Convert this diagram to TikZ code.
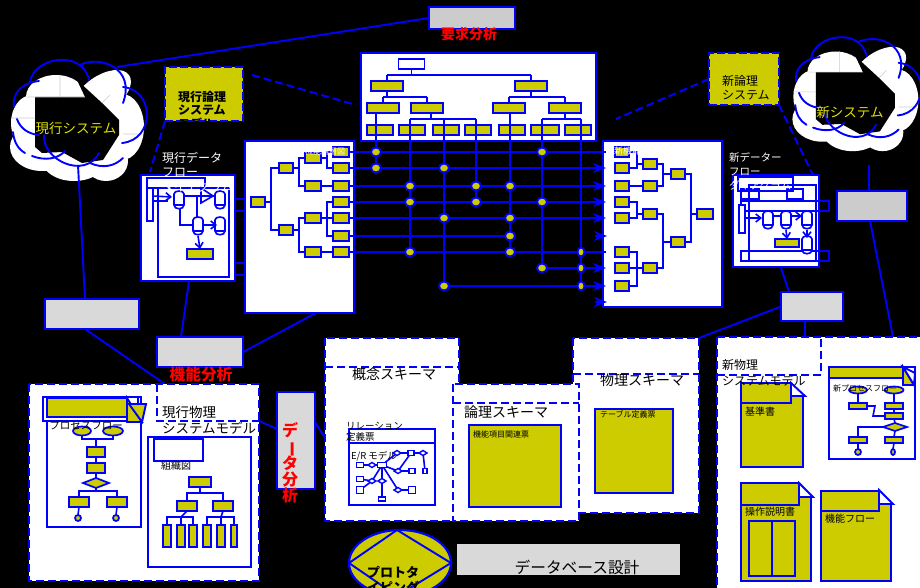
\documentclass[tikz,border=0pt]{standalone}
\usepackage{fontspec}
\setmainfont{Noto Sans CJK JP}
\usetikzlibrary{shapes.geometric,arrows.meta,calc}
\definecolor{lineblue}{RGB}{0,0,255}
\definecolor{docyellow}{RGB}{204,204,0}
\definecolor{labelyellow}{RGB}{225,225,0}
\definecolor{boxgray}{RGB}{204,204,204}
\definecolor{panelgray}{RGB}{217,217,217}

\tikzset{
    conn/.style={draw=lineblue, line width=1.9pt},
    wire/.style={draw=lineblue, line width=1.6pt},
    dashconn/.style={draw=lineblue, line width=2pt, dash pattern=on 8pt off 4pt},
    matarrow/.style={conn, -{Stealth[length=13pt,width=10pt,inset=4pt]}},
    openarrow/.style={wire, -{Straight Barb[length=5pt,width=8pt]}},
    ybox/.style 2 args={draw=lineblue, fill=docyellow, line width=1.9pt, inner sep=0pt, outer sep=0pt,
                        minimum width=#1, minimum height=#2},
    gbox/.style 2 args={draw=lineblue, fill=panelgray, line width=2.2pt, inner sep=0pt, outer sep=0pt,
                        minimum width=#1, minimum height=#2},
    wbox/.style 2 args={draw=lineblue, fill=white, line width=2.2pt, inner sep=0pt, outer sep=0pt,
                        minimum width=#1, minimum height=#2},
    dashbox/.style={draw=lineblue, fill=white, line width=2pt, dash pattern=on 8pt off 4pt},
    dot/.style={ellipse, draw=lineblue, fill=docyellow, line width=1.9pt, inner sep=0pt, outer sep=0pt,
                minimum width=10, minimum height=9},
    oval/.style 2 args={ellipse, draw=lineblue, fill=docyellow, line width=1.7pt, inner sep=0pt, outer sep=0pt,
                minimum width=#1, minimum height=#2},
    dmd/.style 2 args={diamond, draw=lineblue, fill=docyellow, line width=1.7pt, inner sep=0pt, outer sep=0pt,
                minimum width=#1, minimum height=#2},
    entity/.style 2 args={draw=lineblue, fill=white, line width=1.4pt, inner sep=0pt, outer sep=0pt,
                minimum width=#1, minimum height=#2},
    rel/.style={diamond, draw=lineblue, fill=white, line width=1.4pt, inner sep=0pt, outer sep=0pt,
                minimum width=8, minimum height=5},
    lbl/.style={inner sep=0pt, outer sep=0pt, align=left},
    redlbl/.style={lbl, text=red, font=\bfseries\fontsize{15.7}{16}\selectfont},
    cloudshape/.pic={
        \fill[white] (56,97) ellipse [x radius=30, y radius=22];
        \fill[white,rotate around={35:(102,94)}] (102,94) ellipse [x radius=33, y radius=18];
        \fill[white] (32,123) ellipse [x radius=21, y radius=28];
        \fill[white] (42,147) ellipse [x radius=32, y radius=24];
        \fill[white] (74,160) ellipse [x radius=32, y radius=21];
        \fill[white] (106,161) ellipse [x radius=22, y radius=20];
        \fill[white] (122,127) ellipse [x radius=22, y radius=33];
        \fill[black] (35,97) -- (85,97) -- (77,80) -- (102,103) -- (119,120) -- (119,135)
            -- (103,160) -- (82,163) -- (62,152) -- (42,153) -- (35,147) -- cycle;
        \draw[boxgray,line width=.6pt] (27,97) -- (85,97) (60,75) -- (60,97) (11,118) -- (35,118)
            (123,134) -- (138,134) (102,103) -- (110,95);
        \draw[conn,line cap=round] (30,82) .. controls (33,58) and (82,48) .. (89,80);
        \draw[conn,line cap=round] (80,65) .. controls (100,55) and (136,68) .. (123,103);
        \draw[conn,line cap=round] (123,87) .. controls (155,90) and (155,140) .. (122,143);
        \draw[conn,line cap=round] (39,81) .. controls (20,83) and (12,95) .. (14,107);
        \draw[conn,line cap=round] (17,119) .. controls (20,128) and (28,134) .. (39,135);
        \draw[conn,line cap=round] (13,132) .. controls (14,142) and (18,149) .. (25,153);
        \draw[conn,line cap=round] (32,156) .. controls (45,161) and (58,159) .. (65,151);
        \draw[conn,line cap=round] (44,135) .. controls (42,160) and (85,180) .. (99,153);
        \draw[conn,line cap=round] (90,163) .. controls (103,169) and (115,166) .. (123,158);
    },
    cylinder/.pic={
        \draw[wire,fill=white] (-5,-6) .. controls (-5,-10) and (5,-10) .. (5,-6) -- (5,5)
            .. controls (5,10) and (-5,10) .. (-5,5) -- cycle;
        \draw[wire] (-5,5) -- (5,5);
    },
}

\begin{document}
\begin{tikzpicture}[x=1pt,y=-1pt]
\useasboundingbox (0,0) rectangle (920,588);
\clip (0,0) rectangle (920,588);
\fill[black] (0,0) rectangle (920,588);

% long lines behind the panels
\coordinate (cloudout) at (117,67);
\coordinate (cloudfoot) at (78,165);
\coordinate (newfoot) at (869,165);
\coordinate (oldlogicend) at (356,105);
\coordinate (oldflowtop) at (150,172);
\coordinate (newlogicend) at (616,119);
\coordinate (newflowtop) at (813,175);

% clouds
\pic at (0,0) {cloudshape};
\pic[scale=.94] at (783,-19) {cloudshape};
\node[lbl, text=labelyellow, font=\fontsize{13.5}{15}\selectfont] (oldcloud) at (76,128) {現行システム};
\node[lbl, text=labelyellow, font=\fontsize{13.5}{15}\selectfont] (newcloud) at (850,112) {新システム};

% gray boxes
\node[gbox={86}{22}, fill=boxgray] (reqbox) at (472,18) {};
\node[gbox={94}{30}] (oldphys) at (92,314) {};
\node[gbox={86}{30}] (funcbox) at (200,352) {};
\node[gbox={38}{97}] (databox) at (296,440.5) {};
\node[gbox={70}{30}, fill=boxgray] (newphys) at (872,206) {};
\node[gbox={62}{29}] (newfunc) at (812,306.5) {};
\node[redlbl, font=\bfseries\fontsize{14}{15}\selectfont] (reqlabel) at (469,34) {要求分析};
\node[redlbl] (funclabel) at (201,375) {機能分析};
\node[redlbl, align=center, font=\bfseries\fontsize{16}{16.2}\selectfont] (datalabel) at (290,463)
    {デ\\\smash{\rotatebox[origin=c]{-90}{ー}}\\タ\\分\\析};

\draw[conn] (cloudout) -- (reqbox.west);
\draw[conn] (cloudfoot) -- (85,299);
\draw[conn] (newfoot) -- (newphys.north -| newfoot);

% logical system boxes
\node[ybox={78}{54}, dash pattern=on 8pt off 3pt] (oldlogic) at (204,94) {};
\node[ybox={70}{52}, dash pattern=on 8pt off 3pt] (newlogic) at (744,79) {};
\node[lbl, anchor=west, font=\bfseries\fontsize{12}{13.5}\selectfont] (oldlogictext) at (178,110)
    {現行論理\\システム\\モデル};
\node[lbl, anchor=west, font=\fontsize{12}{14}\selectfont] (newlogictext) at (722,88) {新論理\\システム};
\draw[dashconn] (252,75) -- (oldlogicend);
\draw[dashconn] (oldlogic.south west) -- (oldflowtop);
\draw[dashconn] (newlogic.west) -- (newlogicend);
\draw[dashconn] (newlogic.south east) -- (newflowtop);

% old data flow
\node[wbox={94}{106}] (oldflow) at (188,228) {};
\node[wbox={71}{89}, line width=1.6pt, fill=none] (oldinner) at (193.5,232.5) {};
\node[wbox={58}{10}, line width=1.6pt, fill=none] (oldtop) at (176,183) {};
\node[wbox={6}{33}, line width=1.6pt] (oldstore) at (150,204.5) {};
\node[ybox={26}{10}] (oldproc) at (200,254) {};
\pic at (179,200) {cylinder};
\pic at (220,200) {cylinder};
\pic at (198,226) {cylinder};
\pic at (220,226) {cylinder};
\draw[openarrow] (oldstore.east |- 0,196) -- (172,197);
\draw[wire] (oldstore.east |- 0,201) -- (168,201);
\draw[wire] (185,196) -- (214,196);
\draw[wire] (197,196) -- (197,217);
\draw[wire] (180,208) |- (192,225);
\draw[openarrow] (203,225) -- (217,225);
\draw[openarrow] (198,236) -- (oldproc.north);
\draw[wire] (201,188) -- (201,203) -- (213,196) -- cycle;
\node[lbl, anchor=west, text=white, font=\fontsize{12}{14.5}\selectfont] (oldflowtext) at (162,172)
    {現行データ\\フロー\\ダイアグラム};

% old function tree
\node[wbox={109}{172}] (oldtree) at (299.5,227) {};
\foreach \y in {199,211,263,275}
    \draw[conn] (oldflow.east |- 0,\y) -- (oldtree.west |- 0,\y);
\draw[conn] (oldflow.south -| 189,0) -- (funcbox.north -| 181,0);
\draw[conn] (oldtree.south -| 316,0) -- (funcbox.east);
\draw[conn] (oldphys.south) ++(-7,0) -- (165,384);

\node[ybox={14}{10}] (pr) at (258,202) {};
\node[ybox={14}{10}] (pb1) at (286,168) {};
\node[ybox={14}{10}] (pb2) at (286,230) {};
\foreach \n/\y in {1/158,2/186,3/218,4/252}
    \node[ybox={16}{10}] (pc\n) at (313,\y) {};
\foreach \n/\y in {1/152,2/168,3/186,4/202,5/218,6/236,7/252}
    \node[ybox={16}{10}] (pa\n) at (341,\y) {};
\draw[conn] (pr.east) -- ++(6,0) |- (pb1.west);
\draw[conn] (pr.east) -- ++(6,0) |- (pb2.west);
\draw[conn] (pb1.east) -- ++(6,0) |- (pc1.west);
\draw[conn] (pb1.east) -- ++(6,0) |- (pc2.west);
\draw[conn] (pb2.east) -- ++(6,0) |- (pc3.west);
\draw[conn] (pb2.east) -- ++(6,0) |- (pc4.west);
\draw[conn] (pc1.east) -- ++(6,0) |- (pa1.west);
\draw[conn] (pc1.east) -- ++(6,0) |- (pa2.west);
\draw[conn] (pc2.east) -- (pa3.west);
\draw[conn] (pc3.east) -- ++(6,0) |- (pa4.west);
\draw[conn] (pc3.east) -- ++(6,0) |- (pa5.west);
\draw[conn] (pc3.east) -- ++(6,0) |- (pa6.west);
\draw[conn] (pc4.east) -- (pa7.west);
\node[lbl, text=white, font=\fontsize{8}{9}\selectfont] (oldtreetext) at (325,151) {機能階層図};

% new function tree
\node[wbox={119}{166}] (newtree) at (662.5,224) {};
\foreach \n/\y in {1/152,2/168,3/186,4/202,5/218,6/252,7/268,8/286}
    \node[ybox={14}{10}] (fa\n) at (622,\y) {};
\foreach \n/\y in {1/164,2/186,3/214,4/268}
    \node[ybox={14}{10}] (fb\n) at (650,\y) {};
\node[ybox={14}{10}] (fc1) at (678,174) {};
\node[ybox={14}{10}] (fc2) at (678,242) {};
\node[ybox={16}{10}] (fd) at (705,214) {};
\draw[conn] (fa1.east) -- ++(8,0) |- (fb1.west);
\draw[conn] (fa2.east) -- ++(8,0) |- (fb1.west);
\draw[conn] (fa3.east) -- (fb2.west);
\draw[conn] (fa4.east) -- ++(8,0) |- (fb3.west);
\draw[conn] (fa5.east) -- ++(8,0) |- (fb3.west);
\draw[conn] (fa6.east) -- ++(8,0) |- (fb4.west);
\draw[conn] (fa7.east) -- (fb4.west);
\draw[conn] (fa8.east) -- ++(8,0) |- (fb4.west);
\draw[conn] (fb1.east) -- ++(6,0) |- (fc1.west);
\draw[conn] (fb2.east) -- ++(6,0) |- (fc1.west);
\draw[conn] (fb3.east) -- ++(6,0) |- (fc2.west);
\draw[conn] (fb4.east) -- ++(6,0) |- (fc2.west);
\draw[conn] (fc1.east) -- ++(6,0) |- (fd.west);
\draw[conn] (fc2.east) -- ++(6,0) |- (fd.west);
\node[lbl, anchor=west, text=white, font=\fontsize{9}{10}\selectfont] (newtreetext) at (614,151) {新機能階層図};

% requirement tree
\node[wbox={235}{88}] (reqtree) at (478.5,97) {};
\node[wbox={26}{10}, line width=1.7pt] (tr) at (411.5,64) {};
\foreach \n/\x in {1/387,2/531}
    \node[ybox={32}{10}] (ta\n) at (\x,86) {};
\foreach \n/\x in {1/383,2/427,3/509,4/565}
    \node[ybox={32}{10}] (tb\n) at (\x,108) {};
\foreach \n/\x/\w in {1/380/26,2/412/26,3/446/26,4/478/26,5/512/26,6/545/28,7/578/26}
    \node[ybox={\w}{10}] (tc\n) at (\x,130) {};

% dots of the grid
\foreach \n/\x/\y in {1/376/152,2/542/152,3/376/168,4/444/168,5/410/186,6/476/186,7/510/186,
        8/410/202,9/476/202,10/542/202,11/444/218,12/510/218,13/510/236,14/410/252,15/510/252,
        17/542/268,19/444/286}
    \coordinate (d\n) at (\x,\y);
\foreach \n/\y in {16/252,18/268,20/286}
    \coordinate (d\n) at (581,\y);
\coordinate (j1) at (411.5,75);
\coordinate (j2) at (387,97);
\coordinate (j3) at (531,97);
\coordinate (j4) at (431,119);
\coordinate (j5) at (565,119);
\coordinate (rend) at (606,0);
\draw[conn] (tr.south) -- (j1);
\draw[conn] (j1 -| ta1.north) -- (j1 -| ta2.north);
\draw[conn] (j1 -| ta1.north) -- (ta1.north);
\draw[conn] (j1 -| ta2.north) -- (ta2.north);
\draw[conn] (ta1.south) -- (j2);
\draw[conn] (j2 -| tb1.north) -- (j2 -| tb2.north);
\draw[conn] (j2 -| tb1.north) -- (tb1.north);
\draw[conn] (j2 -| tb2.north) -- (tb2.north);
\draw[conn] (ta2.south) -- (j3);
\draw[conn] (j3 -| tb3.north) -- (j3 -| tb4.north);
\draw[conn] (j3 -| tb3.north) -- (tb3.north);
\draw[conn] (j3 -| tb4.north) -- (tb4.north);
\draw[conn] (tb2.south -| j4) -- (j4);
\draw[conn] (j4 -| d5) -- (j4 -| d6);
\draw[conn] (tb4.south) -- (j5);
\draw[conn] (j5 -| d2) -- (j5 -| d20);
\draw[conn] (d3 |- tb1.south) -- (d3);
\draw[conn] (d15 |- tb3.south) -- (d15);
\foreach \a/\b in {j4/d14,j4/d19,j4/d9,j5/d17,j5/d20}
    \draw[conn] (\b |- \a) -- (\b);
\draw[conn] (pa1.east) -- (pa1 -| rend);
\draw[matarrow] (pa2.east) -- (pa2 -| rend);
\draw[matarrow] (pa3.east) -- (pa3 -| rend);
\draw[matarrow] (pa4.east) -- (pa4 -| rend);
\draw[matarrow] (pa5.east) -- (pa5 -| rend);
\draw[conn] (pa6.east) -- (d13);
\draw[conn] (pa7.east) -- (pa7 -| rend);
\draw[matarrow] (d17) -- (d17 -| rend);
\draw[matarrow] (d19) -- (d19 -| rend);
\coordinate (sa1) at (595,236);
\coordinate (sb1) at (607,236);
\coordinate (sa2) at (595,302);
\coordinate (sb2) at (607,302);
\draw[matarrow] (sa1) -- (sb1);
\draw[matarrow] (sa2) -- (sb2);
\foreach \n in {1,...,15,17,19}
    \node[dot] (dn\n) at (d\n) {};
\foreach \n in {16,18,20}
    \node[dot, minimum width=7] (dn\n) at (d\n) {};

% new data flow
\node[wbox={86}{92}] (newflow) at (776,221) {};
\node[wbox={67}{76}, line width=1.6pt, fill=none] (newinner) at (782.5,223) {};
\node[wbox={55}{14}, line width=1.6pt, fill=none] (newtop) at (765.5,184) {};
\node[wbox={18}{10}, line width=1.6pt, fill=none] (newa) at (750,194) {};
\node[wbox={16}{10}, line width=1.6pt, fill=none] (newb) at (795,194) {};
\node[wbox={88}{10}, line width=1.6pt, fill=none] (newlong) at (785,206) {};
\node[wbox={88}{10}, line width=1.6pt, fill=none] (newlow) at (785,256) {};
\node[wbox={6}{28}, line width=1.6pt] (newstore) at (742,219) {};
\node[ybox={24}{8}] (newproc) at (787,243) {};
\pic at (768,220) {cylinder};
\pic at (786,220) {cylinder};
\pic at (807,220) {cylinder};
\pic at (807,245) {cylinder};
\draw[openarrow] (newstore.east |- 0,218) -- (762,218);
\draw[wire] (773,216) -- (781,216);
\draw[openarrow] (791,216) -- (802,216);
\draw[openarrow] (786,230) -- (newproc.north);
\draw[openarrow] (807,230) -- (807,238);
\node[lbl, anchor=west, text=white, font=\fontsize{10.5}{14}\selectfont] (newflowtext) at (729,171)
    {新データー\\フロー\\ダイアグラム};
\draw[conn] (781,268) -- (newfunc.north -| 789,0);
\draw[conn] (newfunc.west) -- (699,338);
\draw[conn] (newfunc.south) ++(-7,0) -- (805,337);
\draw[conn] (newphys.south -| 870,0) -- (893,337);

% old physical model
\draw[dashbox] (29,384) rectangle (259,581);
\draw[dashbox, fill=none] (157,384) -- (157,421) -- (259,421);
\node[lbl, anchor=west, font=\fontsize{13.5}{16}\selectfont] (oldphystext) at (162,420)
    {現行物理\\システムモデル};
\draw[conn] (259,421) -- (databox.west |- 0,429);
\draw[conn] (databox.east |- 0,422) -- (325,438);

\node[wbox={94}{130}, line width=1.7pt] (pflow) at (94,462) {};
\node[wbox={95}{24}, line width=1.7pt] (pflowhead) at (90.5,409) {};
\node[ybox={80}{19}] (pflowbar) at (87,407.5) {};
\draw[conn, fill=docyellow] (127,398) -- (142,422) -- (127,422) -- cycle;
\draw[conn, fill=docyellow] (129,404) -- (146,404) -- (142,422) -- cycle;
\node[oval={18}{9}] (po1) at (82,431) {};
\node[oval={20}{9}] (po2) at (113,431) {};
\node[lbl, font=\fontsize{10.5}{12}\selectfont] (pflowtext) at (86,425) {プロセスフロー};
\node[ybox={18}{10}] (ps1) at (96,452) {};
\node[ybox={18}{10}] (ps2) at (96,468) {};
\node[dmd={26}{10}] (pd) at (96,483) {};
\node[ybox={20}{10}] (ps3) at (79,502) {};
\node[ybox={20}{10}] (ps4) at (117,502) {};
\node[oval={6}{6}] (pe1) at (78,518) {};
\node[oval={6}{6}] (pe2) at (116,518) {};
\coordinate (pj1) at (96,439);
\coordinate (pj2) at (96,491);
\draw[wire] (po1.south) |- (pj1);
\draw[wire] (po2.south) |- (pj1);
\draw[wire] (pj1) -- (ps1.north);
\draw[wire] (ps1.south) -- (ps2.north);
\draw[wire] (ps2.south) -- (pd.north);
\draw[wire] (pd.south) -- (pj2);
\draw[wire] (pj2) -| (ps3.north);
\draw[wire] (pj2) -| (ps4.north);
\draw[wire] (ps3.south) -- (pe1.north);
\draw[wire] (ps4.south) -- (pe2.north);

\node[wbox={103}{130}, line width=1.7pt] (org) at (199.5,502) {};
\node[wbox={49}{22}, line width=1.7pt] (orgtitle) at (178.5,450) {};
\node[lbl, font=\fontsize{10}{11}\selectfont] (orgtext) at (176,466) {組織図};
\node[ybox={22}{10}] (og0) at (200,482) {};
\node[ybox={20}{10}] (og1) at (187,506) {};
\node[ybox={20}{10}] (og2) at (223,506) {};
\foreach \n/\x/\w in {1/167/8,2/181/8,3/193/8,4/207/8,5/221/8,6/234/6}
    \node[ybox={\w}{22}] (ob\n) at (\x,536) {};
\coordinate (oj0) at (200,493);
\coordinate (oj1) at (181,517);
\coordinate (oj2) at (221,517);
\draw[wire] (og0.south) -- (oj0);
\draw[wire] (oj0) -| (og1.north);
\draw[wire] (oj0) -| (og2.north);
\draw[wire] (og1.south) -- (oj1);
\draw[wire] (og2.south) -- (oj2);
\draw[wire] (oj1) -| (ob1.north);
\draw[wire] (oj1) -| (ob3.north);
\draw[wire] (oj1) -- (ob2.north);
\draw[wire] (oj2) -| (ob4.north);
\draw[wire] (oj2) -| (ob6.north);
\draw[wire] (oj2) -- (ob5.north);

% schemas
\draw[dashbox] (325,338) rectangle (459,521);
\draw[dashbox, fill=none] (325,367) -- (459,367);
\node[lbl, font=\fontsize{14}{16}\selectfont] (concept) at (394,374) {概念スキーマ};
\draw[dashbox] (573,338) rectangle (699,513);
\draw[dashbox, fill=none] (573,374) -- (699,374);
\node[lbl, font=\fontsize{14}{16}\selectfont] (physical) at (642,380) {物理スキーマ};
\draw[dashbox] (453,384) rectangle (579,521);
\draw[dashbox, fill=none] (453,403) -- (579,403);
\node[lbl, font=\fontsize{14}{16}\selectfont] (logical) at (506,412) {論理スキーマ};
\node[ybox={92}{82}] (logtable) at (515,466) {};
\node[lbl, anchor=west, font=\fontsize{8}{9}\selectfont] (logtext) at (473,434) {機能項目関連票};
\node[ybox={78}{84}] (phytable) at (634,451) {};
\node[lbl, anchor=west, font=\fontsize{8}{9}\selectfont] (phytext) at (600,414) {テーブル定義票};

\node[wbox={86}{76}, line width=1.7pt] (erbox) at (392,467) {};
\draw[conn] (erbox.west |- 0,443) -- (erbox.east |- 0,443);
\node[lbl, anchor=west, font=\fontsize{9.5}{10.5}\selectfont] (relation) at (346,432) {リレーション\\定義票};
\node[lbl, anchor=west, font=\fontsize{9.5}{11}\selectfont] (ertext) at (351,456) {E/R モデル};
\foreach \n/\x/\y/\w/\h in {1/360/465/7/5,2/382/465/9/5,3/411/453/6/5,4/412/471/6/5,5/425/471/4/5,
        6/360/479/7/5,7/360/490/7/7,8/412/490/7/7,9/382/499/7/4}
    \node[entity={\w}{\h}] (en\n) at (\x,\y) {};
\foreach \n/\x/\y in {1/372/465,2/397/453,3/423/453,4/398/471,5/372/481,6/382/481,7/398/490}
    \node[rel] (rl\n) at (\x,\y) {};
\foreach \a/\b in {en1/rl1,rl1/en2,en2/rl2,rl2/en3,en3/rl3,rl3/en5,en3/rl4,rl4/en4,en2/rl4,en6/rl5,
        rl5/en2,en2/rl6,rl6/en9,en2/rl7,rl7/en8,en7/rl5}
    \draw[wire] (\a) -- (\b);

% prototype and database
\node[ellipse, draw=lineblue, fill=docyellow, line width=2.2pt, inner sep=0pt, outer sep=0pt,
      minimum width=102, minimum height=66] (proto) at (400,563) {};
\draw[conn] (proto.west) -- (397,530) -- (proto.east) -- (397,596) -- cycle;
\node[lbl, align=center, font=\bfseries\fontsize{13}{14.5}\selectfont] (prototext) at (393,580) {プロトタ\\イピング};
\node[fill=panelgray, inner sep=0pt, outer sep=0pt, minimum width=223, minimum height=31] (dbbox) at (568.5,559.5) {};
\node[lbl, font=\fontsize{15.7}{17}\selectfont] (dbtext) at (577,567) {データベース設計};

% new physical model
\draw[dashbox] (717,337) rectangle (940,610);
\draw[dashbox, fill=none] (717,375) -| (821,337);

\draw[conn, fill=docyellow] (741,383) -- (791,383) -- (803,396) -- (803,467) -- (741,467) -- cycle;
\draw[conn, fill=white] (791,383) -- (805,396) -- (791,396) -- cycle;
\node[ybox={50}{20}] (stdhead) at (766,393) {};
\node[lbl, anchor=west, font=\fontsize{10}{11}\selectfont] (stdtext) at (745,412) {基準書};

\draw[conn, fill=docyellow] (741,483) -- (799,483) -- (811,497) -- (811,581) -- (741,581) -- cycle;
\draw[conn, fill=white] (799,483) -- (813,497) -- (799,497) -- cycle;
\node[ybox={58}{22}] (ophead) at (770,494) {};
\node[lbl, anchor=west, font=\fontsize{10}{11}\selectfont] (optext) at (745,512) {操作説明書};
\node[ybox={46}{55}] (opview) at (772,548.5) {};
\draw[conn] (opview.north) -- (opview.south);

\draw[conn, fill=docyellow] (821,491) -- (879,491) -- (891,504) -- (891,581) -- (821,581) -- cycle;
\draw[conn, fill=white] (879,490) -- (893,504) -- (879,504) -- cycle;
\node[ybox={58}{20}] (fnhead) at (850,501) {};
\node[lbl, anchor=west, font=\fontsize{10}{11}\selectfont] (fntext) at (825,519) {機能フロー};
\node[lbl, anchor=west, font=\fontsize{12}{16}\selectfont] (newphystext) at (722,373) {新物理\\システムモデル};

\node[wbox={86}{92}, line width=1.7pt] (nflow) at (872,413) {};
\node[ybox={74}{11}] (nflowhead) at (866,372.5) {};
\draw[conn, fill=docyellow] (903,367) -- (914,385) -- (903,385) -- cycle;
\draw[conn, fill=white] (903,367) -- (915,373) -- (914,385) -- cycle;
\node[oval={18}{7}] (no1) at (858,390) {};
\node[oval={19}{7}] (no2) at (894,390) {};
\node[lbl, anchor=west, font=\fontsize{8}{9}\selectfont] (nflowtext) at (833,388) {新プロセスフロー};
\node[ybox={18}{6}] (ns1) at (858,406) {};
\node[ybox={18}{6}] (ns2) at (894,406) {};
\node[ybox={18}{6}] (ns3) at (894,416) {};
\node[dmd={24}{8}] (nd) at (895,427) {};
\node[ybox={18}{6}] (ns4) at (858,440) {};
\node[ybox={18}{6}] (ns5) at (894,440) {};
\node[oval={6}{6}] (ne1) at (858,452) {};
\node[oval={4}{6}] (ne2) at (893,452) {};
\draw[wire] (no1.south) -- (ns1.north);
\draw[wire] (no2.south) -- (ns2.north);
\draw[wire] (ns2.south) -- (ns3.north);
\draw[wire] (ns3.south) -- (nd.north);
\draw[wire] (nd.south) -- (ns5.north);
\draw[wire] (ns4.south) -- (ne1.north);
\draw[wire] (ns5.south) -- (ne2.north);
\draw[wire] (ns1.east) -- (875,406) -- (873,416) -- (ns3.west);
\draw[wire] (nd.west) -| (ns4.north);
\end{tikzpicture}
\end{document}
